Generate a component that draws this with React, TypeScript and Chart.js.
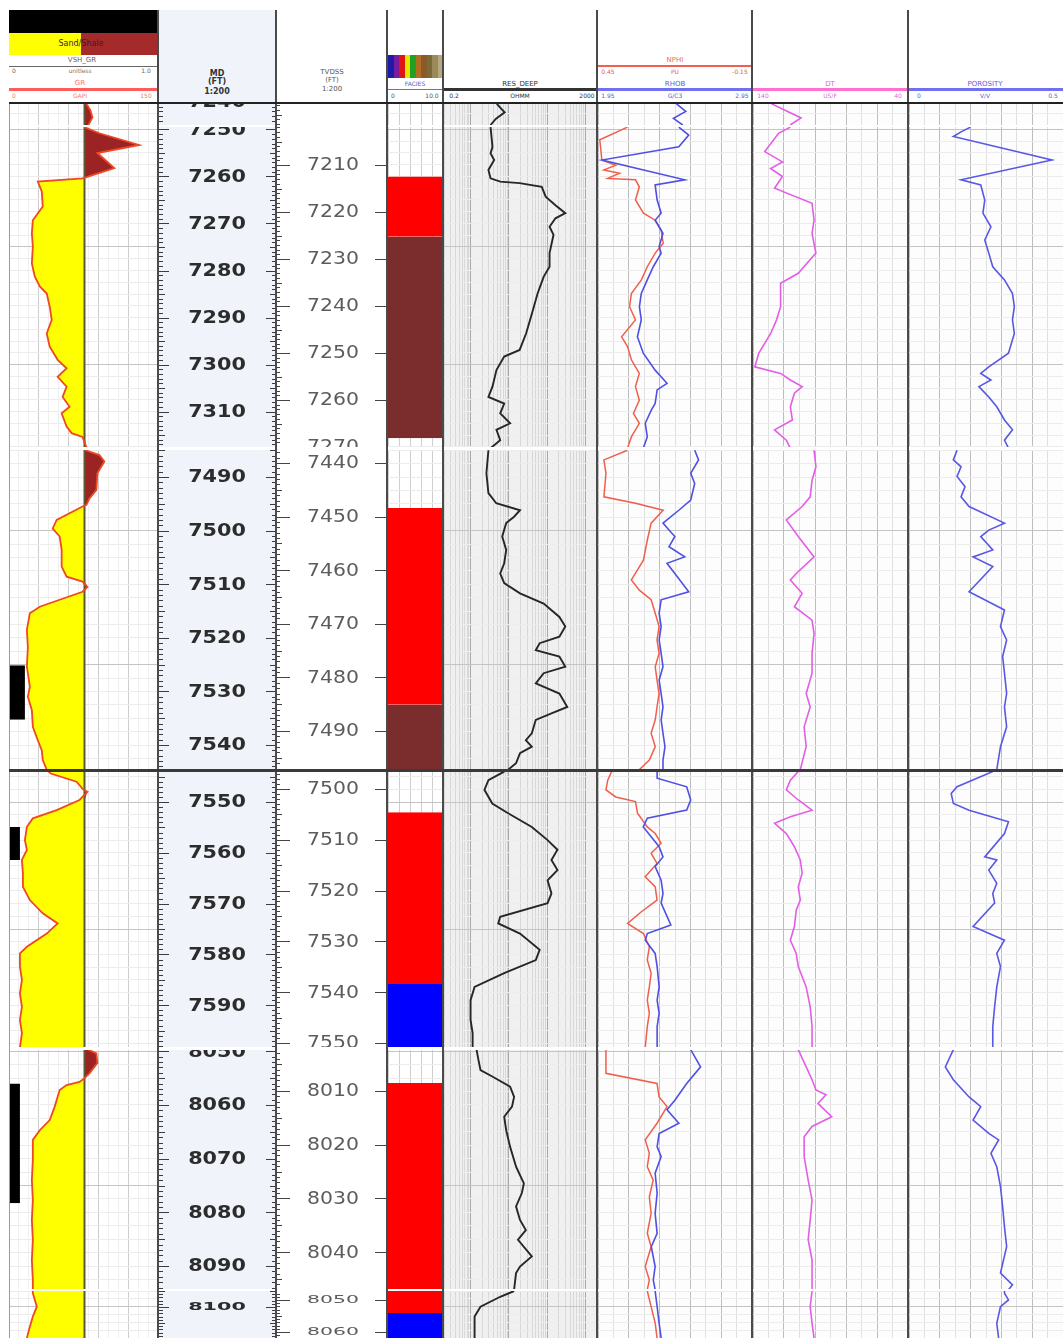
import React, { useEffect, useRef } from 'react';
import { Chart, registerables } from 'chart.js';

Chart.register(...registerables);

type P = [number, number];
type Interval = [number, number, string];

// ---------------- depth tick labels ----------------
const MD_LABELS_S0 = [7240];
const MD_LABELS_S1 = [7250, 7260, 7270, 7280, 7290, 7300, 7310];
const MD_LABELS_S2 = [7490, 7500, 7510, 7520, 7530, 7540];
const MD_LABELS_S3 = [7550, 7560, 7570, 7580, 7590];
const MD_LABELS_S4 = [8050, 8060, 8070, 8080, 8090];
const MD_LABELS_S5 = [8100];
const TVD_LABELS_S0: number[] = [];
const TVD_LABELS_S1 = [7210, 7220, 7230, 7240, 7250, 7260, 7270];
const TVD_LABELS_S2 = [7440, 7450, 7460, 7470, 7480, 7490];
const TVD_LABELS_S3 = [7500, 7510, 7520, 7530, 7540, 7550];
const TVD_LABELS_S4 = [8010, 8020, 8030, 8040];
const TVD_LABELS_S5 = [8050, 8060];

// ---------------- value-axis gridline ticks ----------------
const GR_TICKS = [0, 10, 20, 30, 40, 50, 60, 70, 80, 90, 100, 110, 120, 130, 140, 150];
const RES_TICKS = [0.2, 0.3, 0.4, 0.5, 0.6, 0.7, 0.8, 0.9, 1, 2, 3, 4, 5, 6, 7, 8, 9, 10, 20, 30, 40, 50, 60, 70, 80, 90,
  100, 200, 300, 400, 500, 600, 700, 800, 900, 1000, 2000];
const NPHI_TICKS = [0.45, 0.39, 0.33, 0.27, 0.21, 0.15, 0.09, 0.03, -0.03, -0.09, -0.15];
const DT_TICKS = [140, 130, 120, 110, 100, 90, 80, 70, 60, 50, 40];
const PHIE_TICKS = [0, 0.05, 0.1, 0.15, 0.2, 0.25, 0.3, 0.35, 0.4, 0.45, 0.5];
const FACIES_TICKS = [0, 2, 4, 6, 8, 10];
const GR_CUTOFF = 76;

// ---------------- curves: [MD, value] ----------------
const GR_S0: P[] = [[7240.4, 78], [7241.8, 82], [7243.3, 84], [7244.9, 80]];
const RES_S0: P[] = [[7240.4, 4.8], [7242.2, 7.7], [7243.6, 4.5], [7244.9, 3.3]];
const NPHI_S0: P[] = [];
const RHOB_S0: P[] = [[7240.4, 2.46], [7242.0, 2.52], [7243.5, 2.44], [7244.9, 2.5]];
const DT_S0: P[] = [[7240.4, 128], [7243.4, 109], [7244.9, 116]];
const PHIE_S0: P[] = [];

const GR_S1: P[] = [[7249.5, 76], [7250.8, 91], [7253.3, 131], [7255.0, 89], [7258.2, 106], [7259.9, 81], [7260.4, 74],
  [7261.1, 29], [7263.2, 33], [7266.4, 34], [7269.3, 24], [7272.1, 23], [7274.9, 24], [7278.5, 23], [7281.3, 26],
  [7283.4, 31], [7284.9, 38], [7287.7, 41], [7290.5, 43], [7293.4, 38], [7296.2, 41], [7299.0, 49], [7300.8, 58],
  [7302.6, 49], [7304.7, 58], [7306.9, 54], [7309.0, 61], [7310.4, 53], [7313.2, 58], [7314.6, 63], [7315.4, 74], [7317.6, 78]];
const RES_S1: P[] = [[7249.5, 3.3], [7253.7, 3.7], [7255.1, 3.3], [7256.5, 4.1], [7258.6, 2.9], [7260.4, 3.3], [7261.1, 5.9],
  [7261.4, 19], [7262.2, 72], [7264.3, 91], [7266.1, 164], [7267.8, 297], [7268.9, 164], [7270.7, 115], [7272.4, 146],
  [7276.3, 115], [7279.2, 115], [7281.3, 81], [7284.9, 56], [7289.1, 40], [7293.4, 28], [7296.9, 19], [7298.3, 7.5],
  [7301.2, 4.7], [7304.7, 3.7], [7306.9, 2.9], [7308.3, 7.5], [7310.4, 5.9], [7312.5, 10.7], [7313.9, 4.7], [7316.1, 5.9], [7317.8, 3.3]];
const NPHI_S1: P[] = [[7249.5, 0.335], [7252.2, 0.443], [7256.5, 0.435], [7257.6, 0.381], [7258.6, 0.427], [7259.3, 0.366],
  [7260.4, 0.412], [7260.7, 0.304], [7262.2, 0.289], [7265.0, 0.304], [7267.8, 0.273], [7269.3, 0.227], [7271.4, 0.204],
  [7274.2, 0.196], [7276.3, 0.227], [7279.2, 0.258], [7282.0, 0.281], [7284.9, 0.32], [7287.7, 0.327], [7290.5, 0.304],
  [7294.1, 0.358], [7296.2, 0.335], [7299.0, 0.32], [7301.9, 0.289], [7304.7, 0.304], [7307.6, 0.289], [7310.4, 0.312],
  [7312.5, 0.289], [7315.4, 0.32], [7317.8, 0.335]];
const RHOB_S1: P[] = [[7249.5, 2.475], [7251.2, 2.539], [7253.7, 2.475], [7256.5, 1.975], [7260.7, 2.513], [7261.8, 2.321],
  [7265.0, 2.334], [7267.8, 2.36], [7269.3, 2.321], [7272.1, 2.372], [7274.9, 2.347], [7276.3, 2.36], [7279.2, 2.309],
  [7282.0, 2.27], [7284.9, 2.231], [7287.7, 2.219], [7290.5, 2.231], [7294.1, 2.206], [7297.6, 2.244], [7301.2, 2.321],
  [7304.0, 2.398], [7305.4, 2.334], [7308.3, 2.321], [7309.7, 2.296], [7312.5, 2.257], [7315.4, 2.27], [7317.8, 2.244]];
const DT_S1: P[] = [[7249.5, 115.9], [7250.8, 123.5], [7254.7, 132.4], [7256.9, 121.0], [7258.3, 128.6], [7260.0, 121.0],
  [7262.5, 126.1], [7265.7, 101.9], [7269.3, 100.6], [7272.1, 101.9], [7276.3, 99.4], [7280.6, 110.8], [7282.7, 122.2],
  [7287.7, 122.2], [7290.5, 124.8], [7293.4, 128.6], [7297.6, 136.3], [7300.5, 138.8], [7301.9, 122.2], [7303.3, 115.9],
  [7304.7, 108.3], [7306.1, 113.3], [7309.0, 115.9], [7311.8, 114.6], [7313.9, 126.1], [7316.1, 118.5], [7317.8, 115.9]];
const PHIE_S1: P[] = [[7249.5, 0.2], [7250.5, 0.169], [7251.5, 0.144], [7256.5, 0.464], [7260.7, 0.169], [7261.8, 0.233],
  [7265.0, 0.246], [7267.8, 0.24], [7270.7, 0.266], [7273.5, 0.246], [7276.3, 0.259], [7279.2, 0.272], [7282.0, 0.31],
  [7284.9, 0.336], [7287.7, 0.342], [7290.5, 0.336], [7293.4, 0.342], [7297.6, 0.323], [7300.5, 0.259], [7301.9, 0.233],
  [7303.3, 0.266], [7304.7, 0.227], [7306.9, 0.259], [7309.0, 0.285], [7311.8, 0.31], [7313.9, 0.336], [7316.1, 0.31], [7317.8, 0.323]];

const GR_S2: P[] = [[7485.0, 77], [7485.9, 91], [7487.1, 96], [7489.3, 89], [7492.4, 88], [7494.0, 81], [7495.2, 78],
  [7495.5, 74], [7498.0, 48], [7499.6, 44], [7501.1, 51], [7503.6, 53], [7506.7, 53], [7508.6, 58], [7509.5, 74],
  [7510.5, 79], [7511.4, 74], [7512.9, 51], [7514.2, 31], [7515.4, 21], [7518.5, 18], [7521.7, 19], [7525.4, 18],
  [7529.1, 21], [7531.0, 19], [7533.5, 23], [7536.6, 24], [7539.1, 29], [7541.0, 33], [7542.8, 34], [7544.6, 38]];
const RES_S2: P[] = [[7485.0, 2.9], [7489.3, 2.57], [7493.0, 2.9], [7494.9, 4.65], [7496.2, 19.4], [7497.4, 13.6],
  [7498.6, 8.45], [7501.1, 6.65], [7503.6, 8.45], [7506.1, 7.5], [7508.0, 5.9], [7509.8, 7.5], [7511.7, 19.4],
  [7513.6, 80.6], [7516.1, 208], [7517.9, 297], [7519.8, 208], [7521.0, 63.4], [7522.3, 50.2], [7523.5, 208],
  [7525.4, 297], [7526.6, 80.6], [7528.5, 50.2], [7530.4, 208], [7532.9, 334], [7534.1, 129], [7535.3, 50.2],
  [7537.8, 39.5], [7539.1, 27.6], [7540.3, 39.5], [7541.5, 19.4], [7543.4, 15.3], [7544.6, 9.5]];
const NPHI_S2: P[] = [[7485.0, 0.335], [7486.8, 0.427], [7489.3, 0.419], [7493.7, 0.427], [7494.9, 0.304], [7496.2, 0.196],
  [7498.6, 0.243], [7501.8, 0.258], [7505.5, 0.273], [7509.2, 0.32], [7511.1, 0.289], [7512.9, 0.243], [7515.4, 0.227],
  [7517.9, 0.212], [7520.4, 0.22], [7522.9, 0.212], [7525.4, 0.227], [7527.9, 0.22], [7530.4, 0.212], [7532.9, 0.22],
  [7535.3, 0.227], [7537.8, 0.243], [7540.3, 0.227], [7542.8, 0.25], [7544.6, 0.289]];
const RHOB_S2: P[] = [[7485.0, 2.578], [7486.8, 2.603], [7489.3, 2.552], [7491.2, 2.578], [7494.3, 2.552], [7496.2, 2.475],
  [7498.6, 2.372], [7499.9, 2.411], [7501.1, 2.449], [7503.0, 2.411], [7504.9, 2.513], [7506.1, 2.398], [7508.0, 2.449],
  [7511.4, 2.539], [7512.9, 2.36], [7515.4, 2.347], [7517.9, 2.36], [7520.4, 2.347], [7522.9, 2.36], [7525.4, 2.372],
  [7527.9, 2.347], [7530.4, 2.36], [7532.9, 2.372], [7535.3, 2.36], [7537.8, 2.372], [7540.3, 2.385], [7542.8, 2.372], [7544.6, 2.372]];
const DT_S2: P[] = [[7485.0, 100.6], [7488.1, 99.4], [7490.6, 101.9], [7493.7, 103.1], [7495.5, 108.3], [7498.0, 118.5],
  [7501.1, 110.8], [7504.9, 100.6], [7508.0, 112.1], [7509.2, 115.9], [7511.7, 108.3], [7514.2, 113.3], [7516.7, 101.9],
  [7519.2, 100.6], [7522.9, 101.9], [7526.6, 101.9], [7530.4, 105.7], [7532.9, 103.1], [7536.6, 107], [7540.3, 105.7], [7544.6, 109.5]];
const PHIE_S2: P[] = [[7485.0, 0.156], [7486.8, 0.144], [7488.1, 0.169], [7489.9, 0.156], [7491.8, 0.182], [7493.7, 0.169],
  [7495.5, 0.195], [7498.6, 0.31], [7499.9, 0.259], [7501.1, 0.233], [7503.6, 0.272], [7504.9, 0.208], [7506.7, 0.272],
  [7511.4, 0.195], [7514.8, 0.31], [7517.9, 0.297], [7520.4, 0.317], [7523.5, 0.304], [7526.6, 0.31], [7530.4, 0.317],
  [7532.9, 0.31], [7536.6, 0.317], [7540.3, 0.297], [7544.6, 0.285]];

const GR_S3: P[] = [[7544.0, 40], [7544.4, 42], [7546.0, 68], [7547.6, 75], [7548.0, 79], [7549.6, 71], [7551.6, 48],
  [7553.2, 24], [7554.9, 18], [7557.5, 16], [7559.4, 18], [7561.4, 13], [7564.0, 14], [7566.7, 14], [7569.3, 21],
  [7571.9, 34], [7573.9, 49], [7575.9, 38], [7578.5, 18], [7579.8, 11], [7582.4, 11], [7585.0, 13], [7587.7, 11],
  [7590.3, 13], [7592.9, 11], [7595.5, 13], [7598.3, 11]];
const RES_S3: P[] = [[7544.0, 7.5], [7545.7, 2.9], [7547.6, 2.28], [7550.3, 3.66], [7552.2, 9.5], [7554.9, 39.5],
  [7557.5, 102], [7559.4, 185], [7561.4, 129], [7563.4, 185], [7565.4, 102], [7568.0, 129], [7569.9, 102], [7572.6, 5.9],
  [7573.9, 5.24], [7575.9, 19.4], [7579.1, 63.4], [7581.1, 50.2], [7583.7, 7.5], [7586.4, 1.26], [7589.0, 0.99],
  [7592.9, 0.99], [7595.5, 1.12], [7598.3, 1.12]];
const NPHI_S3: P[] = [[7544.0, 0.397], [7545.7, 0.412], [7547.6, 0.419], [7549.0, 0.381], [7549.9, 0.304], [7552.2, 0.296],
  [7554.9, 0.258], [7556.2, 0.227], [7558.1, 0.204], [7560.1, 0.243], [7562.1, 0.22], [7564.7, 0.266], [7566.7, 0.227],
  [7569.3, 0.22], [7571.6, 0.281], [7573.9, 0.335], [7575.9, 0.273], [7578.5, 0.25], [7581.1, 0.258], [7583.7, 0.243],
  [7586.4, 0.25], [7589.0, 0.258], [7591.6, 0.25], [7594.2, 0.258], [7598.3, 0.266]];
const RHOB_S3: P[] = [[7544.0, 2.334], [7545.3, 2.334], [7547.0, 2.526], [7549.6, 2.552], [7551.6, 2.526], [7553.2, 2.27],
  [7554.9, 2.244], [7558.8, 2.347], [7560.8, 2.372], [7562.7, 2.321], [7565.4, 2.36], [7568.0, 2.372], [7569.9, 2.36],
  [7574.2, 2.423], [7575.9, 2.27], [7577.2, 2.257], [7579.8, 2.321], [7582.4, 2.334], [7586.4, 2.347], [7589.0, 2.334],
  [7591.6, 2.347], [7594.2, 2.334], [7598.3, 2.334]];
const DT_S3: P[] = [[7544.0, 110.8], [7545.7, 115.9], [7547.6, 118.5], [7549.6, 110.8], [7551.6, 101.9], [7552.9, 115.9],
  [7554.2, 126.1], [7556.2, 118.5], [7558.8, 113.3], [7561.4, 109.5], [7564.0, 108.3], [7566.7, 110.8], [7569.3, 109.5],
  [7571.3, 112.1], [7574.5, 113.3], [7577.2, 115.9], [7579.8, 112.1], [7582.4, 110.8], [7586.4, 105.7], [7590.3, 103.1],
  [7594.2, 101.9], [7598.3, 101.9]];
const PHIE_S3: P[] = [[7544.0, 0.272], [7547.0, 0.156], [7548.3, 0.137], [7550.3, 0.144], [7551.6, 0.195], [7553.9, 0.323],
  [7556.2, 0.31], [7560.8, 0.246], [7561.4, 0.285], [7563.4, 0.259], [7566.0, 0.285], [7568.0, 0.272], [7569.9, 0.278],
  [7574.5, 0.208], [7577.2, 0.31], [7579.8, 0.285], [7582.4, 0.297], [7586.4, 0.285], [7590.3, 0.278], [7594.2, 0.272], [7598.3, 0.272]];

const GR_S4: P[] = [[8049.7, 80], [8050.4, 88], [8052.2, 89], [8054.1, 81], [8055.0, 76], [8055.7, 71], [8056.3, 58],
  [8057.2, 51], [8060.3, 46], [8062.8, 41], [8064.7, 31], [8066.5, 24], [8070.2, 24], [8074.0, 23], [8077.7, 24],
  [8081.4, 23], [8085.1, 24], [8088.9, 23], [8092.6, 24], [8094.4, 24]];
const RES_S4: P[] = [[8049.7, 1.42], [8051.6, 1.59], [8053.5, 1.8], [8054.7, 3.66], [8056.6, 10.7], [8058.5, 13.6],
  [8060.3, 12.0], [8062.2, 7.5], [8064.7, 8.45], [8067.8, 10.7], [8071.5, 15.3], [8074.6, 24.5], [8076.4, 21.7],
  [8078.9, 15.3], [8081.4, 19.4], [8083.3, 27.6], [8085.1, 17.2], [8088.2, 39.5], [8090.1, 19.4], [8091.3, 15.3], [8094.4, 13.6]];
const NPHI_S4: P[] = [[8049.7, 0.419], [8054.1, 0.419], [8056.0, 0.22], [8058.5, 0.212], [8060.3, 0.181], [8063.4, 0.22],
  [8066.5, 0.266], [8069.0, 0.25], [8071.5, 0.258], [8074.0, 0.235], [8077.1, 0.25], [8080.2, 0.243], [8083.9, 0.258],
  [8086.4, 0.243], [8090.1, 0.266], [8092.6, 0.25], [8094.4, 0.258]];
const RHOB_S4: P[] = [[8049.7, 2.552], [8052.9, 2.616], [8056.0, 2.526], [8059.1, 2.449], [8060.9, 2.398], [8063.4, 2.475],
  [8065.3, 2.347], [8067.8, 2.334], [8069.6, 2.36], [8072.7, 2.321], [8076.4, 2.334], [8080.2, 2.321], [8083.9, 2.334],
  [8086.4, 2.296], [8090.1, 2.321], [8092.6, 2.309], [8094.4, 2.321]];
const DT_S4: P[] = [[8049.7, 110.8], [8052.9, 105.7], [8055.3, 101.9], [8057.2, 99.4], [8058.1, 92.9], [8059.7, 98.1],
  [8062.2, 89.2], [8064.0, 101.9], [8065.9, 107], [8069.6, 107], [8074.0, 104.4], [8077.7, 101.9], [8081.4, 103.1],
  [8085.1, 104.4], [8088.9, 101.9], [8094.4, 101.9]];
const PHIE_S4: P[] = [[8049.7, 0.144], [8052.9, 0.118], [8055.3, 0.144], [8058.5, 0.195], [8060.3, 0.233], [8062.8, 0.208],
  [8065.3, 0.259], [8066.5, 0.291], [8069.0, 0.266], [8071.5, 0.285], [8075.2, 0.297], [8078.9, 0.304], [8082.7, 0.31],
  [8086.4, 0.317], [8091.3, 0.297], [8093.5, 0.336], [8094.4, 0.323]];

const GR_S5: P[] = [[8095.0, 24], [8095.7, 24], [8099.9, 28], [8103.0, 24], [8106.2, 21], [8109.7, 18]];
const RES_S5: P[] = [[8095.0, 13.6], [8096.8, 5.9], [8099.9, 1.8], [8103.0, 1.26], [8109.7, 1.26]];
const NPHI_S5: P[] = [[8095.0, 0.258], [8099.9, 0.243], [8105.1, 0.227], [8109.7, 0.22]];
const RHOB_S5: P[] = [[8095.0, 2.321], [8099.9, 2.334], [8105.1, 2.347], [8109.7, 2.36]];
const DT_S5: P[] = [[8095.0, 101.9], [8099.9, 103.1], [8105.1, 101.9], [8109.7, 100.6]];
const PHIE_S5: P[] = [[8095.0, 0.31], [8095.7, 0.31], [8097.8, 0.323], [8099.9, 0.297], [8105.1, 0.285], [8109.7, 0.291]];

// ---------------- facies intervals [top MD, base MD, class] ----------------
const FACIES_S0: Interval[] = [];
const FACIES_S1: Interval[] = [[7260.0, 7272.8, 'Sand'], [7272.8, 7315.7, 'Shale']];
const FACIES_S2: Interval[] = [[7495.8, 7532.5, 'Sand'], [7532.5, 7545.0, 'Shale']];
const FACIES_S3: Interval[] = [[7552.0, 7585.8, 'Sand'], [7585.8, 7599.0, 'Wet']];
const FACIES_S4: Interval[] = [[8055.9, 8095.0, 'Sand']];
const FACIES_S5: Interval[] = [[8095.0, 8101.9, 'Sand'], [8101.9, 8110.0, 'Wet']];

// perforated intervals [top MD, base MD] and their flag value on the GR axis
const PERFS: P[] = [[7525.1, 7535.3], [7554.9, 7561.4], [8056.0, 8078.3]];
const PERF_FLAG = [16, 11, 11];

// ---------------- styles / layout ----------------
const FACIES_COLORS: Record<string, string> = { Sand: '#ff0000', Shale: '#7b2c2c', Wet: '#0000ff' };
const COL = {
  gr: '#ee4824', shale: '#9c2323', sand: '#ffff00', cut: '#5a5a34', res: '#262626',
  nphi: '#ef5f4c', rhob: '#4f4fe4', dt: '#e35ee6', phie: '#5858e4',
};
const TX: Record<string, [number, number]> = {
  gr: [9, 149], md: [159, 117], tvd: [277, 110], fac: [388, 55], res: [444, 153], den: [598, 154], dt: [753, 155], phi: [909, 154],
};

const SECTIONS = [
  { top: 104, h: 21, md: [7240.43, 7244.9], tvd: [7192.7, 7197.2], sy: 1, mdL: MD_LABELS_S0, tvdL: TVD_LABELS_S0,
    gr: GR_S0, res: RES_S0, nphi: NPHI_S0, rhob: RHOB_S0, dt: DT_S0, phie: PHIE_S0, fac: FACIES_S0 },
  { top: 127, h: 320, md: [7249.47, 7317.55], tvd: [7201.91, 7270.0], sy: 1, mdL: MD_LABELS_S1, tvdL: TVD_LABELS_S1,
    gr: GR_S1, res: RES_S1, nphi: NPHI_S1, rhob: RHOB_S1, dt: DT_S1, phie: PHIE_S1, fac: FACIES_S1 },
  { top: 450, h: 319, md: [7484.96, 7544.47], tvd: [7437.57, 7497.08], sy: 1, mdL: MD_LABELS_S2, tvdL: TVD_LABELS_S2,
    gr: GR_S2, res: RES_S2, nphi: NPHI_S2, rhob: RHOB_S2, dt: DT_S2, phie: PHIE_S2, fac: FACIES_S2 },
  { top: 772, h: 275, md: [7544.09, 7598.22], tvd: [7496.65, 7550.79], sy: 1, mdL: MD_LABELS_S3, tvdL: TVD_LABELS_S3,
    gr: GR_S3, res: RES_S3, nphi: NPHI_S3, rhob: RHOB_S3, dt: DT_S3, phie: PHIE_S3, fac: FACIES_S3 },
  { top: 1050, h: 239, md: [8049.76, 8094.27], tvd: [8002.36, 8046.87], sy: 1, mdL: MD_LABELS_S4, tvdL: TVD_LABELS_S4,
    gr: GR_S4, res: RES_S4, nphi: NPHI_S4, rhob: RHOB_S4, dt: DT_S4, phie: PHIE_S4, fac: FACIES_S4 },
  { top: 1291, h: 47, md: [8095.0, 8109.69], tvd: [8047.19, 8061.88], sy: 0.6, mdL: MD_LABELS_S5, tvdL: TVD_LABELS_S5,
    gr: GR_S5, res: RES_S5, nphi: NPHI_S5, rhob: RHOB_S5, dt: DT_S5, phie: PHIE_S5, fac: FACIES_S5 },
];

// ---------------- plugins ----------------
const bgPlugin = {
  id: 'bg',
  beforeDraw(chart: any, _a: any, o: any) {
    if (!o || !o.color) return;
    const { ctx, chartArea: a } = chart;
    ctx.save();
    ctx.fillStyle = o.color;
    ctx.fillRect(a.left, a.top, a.right - a.left, a.bottom - a.top);
    ctx.restore();
  },
};

const rulerPlugin = {
  id: 'ruler',
  afterDraw(chart: any, _a: any, o: any) {
    if (!o || !o.labels) return;
    const { ctx } = chart;
    const y = chart.scales.y;
    const W = chart.width;
    ctx.save();
    ctx.strokeStyle = o.tickColor;
    ctx.lineWidth = 1;
    ctx.beginPath();
    for (let d = Math.ceil(y.min); d <= Math.floor(y.max); d++) {
      const p = Math.round(y.getPixelForValue(d)) + 0.5;
      const k = d % 10 === 0 ? 2 : d % 5 === 0 ? 1 : 0;
      const l = o.left[k];
      const r = o.right[k];
      if (l) { ctx.moveTo(0, p); ctx.lineTo(l, p); }
      if (r) { ctx.moveTo(W - r, p); ctx.lineTo(W, p); }
    }
    ctx.stroke();
    ctx.fillStyle = o.color;
    ctx.font = o.font;
    ctx.textAlign = 'center';
    ctx.textBaseline = 'middle';
    for (const d of o.labels) {
      const p = y.getPixelForValue(d);
      ctx.save();
      ctx.translate(o.cx, p);
      ctx.scale(o.sx, o.sy);
      ctx.fillText(String(d), 0, 1);
      ctx.restore();
    }
    ctx.restore();
  },
};

// ---------------- config helpers ----------------
const pts = (arr: P[]) => arr.map(([d, v]) => ({ x: v, y: d }));

function depthAxis(range: number[], minor = 2.5, major = 25) {
  const [min, max] = range;
  return {
    type: 'linear', reverse: true, min, max, position: 'left',
    afterBuildTicks: (s: any) => {
      const t: any[] = [];
      for (let v = Math.ceil(min / minor) * minor; v <= max + 1e-9; v += minor) t.push({ value: Math.round(v * 1000) / 1000 });
      s.ticks = t;
    },
    afterFit: (s: any) => { s.width = 0; },
    ticks: { display: false },
    grid: {
      drawTicks: false, lineWidth: 1,
      color: (c: any) => {
        const v = c.tick ? c.tick.value : 0;
        return Math.abs(v / major - Math.round(v / major)) < 1e-6 ? '#c4c4c4' : '#ececec';
      },
    },
    border: { display: false },
  };
}

function valueAxis(o: any) {
  return {
    type: o.type || 'linear', min: o.min, max: o.max, reverse: !!o.reverse, position: 'top',
    display: o.display === undefined ? true : o.display,
    afterBuildTicks: (s: any) => { s.ticks = o.ticks.map((v: number) => ({ value: v })); },
    afterFit: (s: any) => { s.height = 0; },
    ticks: { display: false },
    grid: {
      drawTicks: false, lineWidth: 1,
      color: (c: any) => (o.isMajor(c.tick ? c.tick.value : 0, c.index) ? o.major : o.minor),
    },
    border: { display: false },
  };
}

function baseOptions(scales: any, bg?: string, extra: any = {}) {
  return {
    responsive: false,
    maintainAspectRatio: false,
    animation: false,
    events: [],
    indexAxis: 'y',
    layout: { padding: 0 },
    scales,
    plugins: { legend: { display: false }, tooltip: { enabled: false }, title: { display: false }, bg: { color: bg }, ...extra },
  };
}

const curve = (data: P[], color: string, width: number, xAxisID = 'x') => ({
  data: pts(data), borderColor: color, borderWidth: width, pointRadius: 0, fill: false, xAxisID, tension: 0,
});

const block = (top: number, base: number, value: number, from: number, color: string, xAxisID = 'x') => ({
  data: [{ x: value, y: top }, { x: value, y: base }],
  borderWidth: 0, pointRadius: 0, backgroundColor: color, fill: { value: from }, xAxisID,
});

function grConfig(s: any) {
  const [a, b] = s.md;
  const sets: any[] = [curve(s.gr, COL.gr, 1.8)];
  PERFS.forEach(([t, bt], i) => {
    if (bt > a && t < b) sets.push(block(t, bt, PERF_FLAG[i], 0, '#000000'));
  });
  sets.push({ data: [{ x: GR_CUTOFF, y: a }, { x: GR_CUTOFF, y: b }], borderColor: COL.cut, borderWidth: 2, pointRadius: 0, fill: false });
  sets.push({ data: s.gr.map(([d, v]: P) => ({ x: Math.max(v, GR_CUTOFF), y: d })), borderWidth: 0, pointRadius: 0, backgroundColor: COL.shale, fill: { value: GR_CUTOFF } });
  sets.push({ data: s.gr.map(([d, v]: P) => ({ x: Math.min(v, GR_CUTOFF), y: d })), borderWidth: 0, pointRadius: 0, backgroundColor: COL.sand, fill: { value: GR_CUTOFF } });
  return {
    type: 'line',
    data: { datasets: sets },
    options: baseOptions({
      x: valueAxis({ min: 0, max: 150, ticks: GR_TICKS, isMajor: (v: number) => v % 30 === 0, major: '#cdcdcd', minor: '#efefef' }),
      y: depthAxis(s.md),
    }, '#ffffff'),
    plugins: [bgPlugin],
  };
}

function facConfig(s: any) {
  const sets = s.fac.map(([t, bt, cls]: Interval) => block(t, bt, 10, 0, FACIES_COLORS[cls]));
  return {
    type: 'line',
    data: { datasets: sets },
    options: baseOptions({
      x: valueAxis({ min: 0, max: 10, ticks: FACIES_TICKS, isMajor: () => false, major: '#c8c8c8', minor: '#cfcfcf' }),
      y: depthAxis(s.md),
    }, '#ffffff'),
    plugins: [bgPlugin],
  };
}

function resConfig(s: any) {
  return {
    type: 'line',
    data: { datasets: [curve(s.res, COL.res, 1.9)] },
    options: baseOptions({
      x: valueAxis({
        type: 'logarithmic', min: 0.2, max: 2000, ticks: RES_TICKS,
        isMajor: (v: number) => Math.abs(Math.log10(v) - Math.round(Math.log10(v))) < 1e-9,
        major: '#a9a9a9', minor: '#d7d7d7',
      }),
      y: depthAxis(s.md),
    }, '#f0f0f0'),
    plugins: [bgPlugin],
  };
}

function denConfig(s: any) {
  return {
    type: 'line',
    data: { datasets: [curve(s.rhob, COL.rhob, 1.6, 'x2'), curve(s.nphi, COL.nphi, 1.5, 'x')] },
    options: baseOptions({
      x: valueAxis({ min: -0.15, max: 0.45, reverse: true, ticks: NPHI_TICKS, isMajor: (_v: number, i: number) => i % 2 === 0, major: '#bdbdbd', minor: '#e0e0e0' }),
      x2: { type: 'linear', min: 1.95, max: 2.95, display: false, position: 'top' },
      y: depthAxis(s.md),
    }, '#fdfdfd'),
    plugins: [bgPlugin],
  };
}

function dtConfig(s: any) {
  return {
    type: 'line',
    data: { datasets: [curve(s.dt, COL.dt, 1.6)] },
    options: baseOptions({
      x: valueAxis({ min: 40, max: 140, reverse: true, ticks: DT_TICKS, isMajor: (_v: number, i: number) => i % 2 === 0, major: '#bdbdbd', minor: '#e0e0e0' }),
      y: depthAxis(s.md),
    }, '#fdfdfd'),
    plugins: [bgPlugin],
  };
}

function phiConfig(s: any) {
  return {
    type: 'line',
    data: { datasets: [curve(s.phie, COL.phie, 1.6)] },
    options: baseOptions({
      x: valueAxis({ min: 0, max: 0.5, ticks: PHIE_TICKS, isMajor: (_v: number, i: number) => i % 2 === 0, major: '#bdbdbd', minor: '#e0e0e0' }),
      y: depthAxis(s.md),
    }, '#fdfdfd'),
    plugins: [bgPlugin],
  };
}

function rulerConfig(range: number[], labels: number[], bg: string, ruler: any) {
  return {
    type: 'line',
    data: { datasets: [] },
    options: baseOptions({
      x: { type: 'linear', min: 0, max: 1, display: false },
      y: { type: 'linear', reverse: true, min: range[0], max: range[1], display: false },
    }, bg, { ruler: { ...ruler, labels } }),
    plugins: [bgPlugin, rulerPlugin],
  };
}

const mdConfig = (s: any) => rulerConfig(s.md, s.mdL, '#f0f4fa', {
  tickColor: '#3c3c3c', left: [4, 6, 10], right: [4, 6, 10], color: '#2c2c2c',
  font: 'bold 17px "DejaVu Sans", sans-serif', cx: 58, sx: 1.22, sy: s.sy,
});
const tvdConfig = (s: any) => rulerConfig(s.tvd, s.tvdL, '#ffffff', {
  tickColor: '#444444', left: [3, 5, 13], right: [0, 0, 12], color: '#5c5c5c',
  font: '17px "DejaVu Sans", sans-serif', cx: 56, sx: 1.2, sy: s.sy,
});

// ---------------- components ----------------
function TrackChart({ x, y, w, h, make }: { x: number; y: number; w: number; h: number; make: () => any }) {
  const ref = useRef<HTMLCanvasElement | null>(null);
  useEffect(() => {
    if (!ref.current) return;
    const chart = new Chart(ref.current, make());
    return () => chart.destroy();
  }, []);
  return <canvas ref={ref} width={w} height={h} style={{ position: 'absolute', left: x, top: y, width: w, height: h }} />;
}

const Box = ({ x, y, w, h, c }: any) => (
  <div style={{ position: 'absolute', left: x, top: y, width: w, height: h, background: c }} />
);
const Txt = ({ x, y, t, s = 7, c = '#555', b = false }: any) => (
  <div style={{
    position: 'absolute', left: x, top: y, transform: 'translate(-50%, -50%)', fontSize: s, lineHeight: 1,
    color: c, fontWeight: b ? 700 : 400, whiteSpace: 'nowrap', fontFamily: '"DejaVu Sans", sans-serif',
  }}>{t}</div>
);

const LEGEND_STRIPES = ['#1c1ca8', '#7a1c9c', '#e01414', '#e6e600', '#22a022', '#b07020', '#8a5a2a', '#7a6a3a', '#9a8a5a', '#b8a880'];

// header: [centre x, track colour, name, left value, unit, right value]
const CURVE_HEADERS: [number, string, string, string, string, string, number, number][] = [
  [520, '#333333', 'RES_DEEP', '0.2', 'OHMM', '2000', 444, 153],
  [675, '#5a5ae0', 'RHOB', '1.95', 'G/C3', '2.95', 598, 154],
  [830, '#e066e0', 'DT', '140', 'US/F', '40', 753, 155],
  [985, '#6060e0', 'POROSITY', '0', 'V/V', '0.5', 909, 154],
];

function Header() {
  return (
    <>
      <Box x={159} y={10} w={117} h={92} c="#f0f4fa" />
      <Box x={9} y={10} w={149} h={23} c="#000" />
      <Box x={9} y={33} w={72} h={22} c="#ffff00" />
      <Box x={81} y={33} w={77} h={22} c="#a52b2b" />
      <Txt x={81} y={44} t="Sand/Shale" s={8} c="#3a1838" />
      <Txt x={82} y={60} t="VSH_GR" s={7} c="#666" />
      <Box x={9} y={66} w={149} h={1} c="#666" />
      <Txt x={14} y={71} t="0" s={6} c="#666" />
      <Txt x={80} y={71} t="unitless" s={6} c="#777" />
      <Txt x={146} y={71} t="1.0" s={6} c="#666" />
      <Txt x={80} y={83} t="GR" s={7} c="#f07a7a" />
      <Box x={9} y={88} w={149} h={3} c="#ff5c5c" />
      <Txt x={14} y={96} t="0" s={6} c="#f07a7a" />
      <Txt x={80} y={96} t="GAPI" s={6} c="#f07a7a" />
      <Txt x={146} y={96} t="150" s={6} c="#f07a7a" />

      <Txt x={217} y={74} t="MD" s={8} c="#333" b />
      <Txt x={217} y={82} t="(FT)" s={8} c="#333" b />
      <Txt x={217} y={92} t="1:200" s={8} c="#333" b />

      <Txt x={332} y={72} t="TVDSS" s={7} c="#555" />
      <Txt x={332} y={80} t="(FT)" s={7} c="#555" />
      <Txt x={332} y={89} t="1:200" s={7} c="#555" />

      {LEGEND_STRIPES.map((c, i) => <Box key={i} x={388 + i * 5.5} y={55} w={5.5} h={23} c={c} />)}
      <Txt x={415} y={84} t="FACIES" s={6} c="#4466cc" />
      <Box x={388} y={89} w={55} h={1} c="#777" />
      <Txt x={393} y={96} t="0" s={6} c="#555" />
      <Txt x={432} y={96} t="10.0" s={6} c="#555" />

      <Txt x={675} y={60} t="NPHI" s={7} c="#f06a5a" />
      <Box x={598} y={65} w={154} h={2} c="#f06050" />
      <Txt x={608} y={72} t="0.45" s={6} c="#e0604a" />
      <Txt x={675} y={72} t="PU" s={6} c="#e0604a" />
      <Txt x={740} y={72} t="-0.15" s={6} c="#e0604a" />
      {CURVE_HEADERS.map(([cx, c, n, l, u, r, x0, w], i) => (
        <React.Fragment key={i}>
          <Txt x={cx} y={84} t={n} s={7} c={c} />
          <Box x={x0} y={88} w={w} h={3} c={i === 0 ? '#333' : i === 2 ? '#ff70d0' : '#7070f0'} />
          <Txt x={x0 + 10} y={96} t={l} s={6} c={c} />
          <Txt x={cx} y={96} t={u} s={6} c={c} />
          <Txt x={x0 + w - 10} y={96} t={r} s={6} c={c} />
        </React.Fragment>
      ))}
    </>
  );
}

const SEPARATORS = [157, 275, 386, 442, 596, 751, 907];

export default function App() {
  return (
    <div style={{ position: 'fixed', left: 0, top: 0, width: 1063, height: 1338, background: '#fff', overflow: 'hidden' }}>
      <Header />
      {SECTIONS.map((s, i) => (
        <React.Fragment key={i}>
          <TrackChart x={TX.gr[0]} y={s.top} w={TX.gr[1]} h={s.h} make={() => grConfig(s)} />
          <TrackChart x={TX.md[0]} y={s.top} w={TX.md[1]} h={s.h} make={() => mdConfig(s)} />
          <TrackChart x={TX.tvd[0]} y={s.top} w={TX.tvd[1]} h={s.h} make={() => tvdConfig(s)} />
          <TrackChart x={TX.fac[0]} y={s.top} w={TX.fac[1]} h={s.h} make={() => facConfig(s)} />
          <TrackChart x={TX.res[0]} y={s.top} w={TX.res[1]} h={s.h} make={() => resConfig(s)} />
          <TrackChart x={TX.den[0]} y={s.top} w={TX.den[1]} h={s.h} make={() => denConfig(s)} />
          <TrackChart x={TX.dt[0]} y={s.top} w={TX.dt[1]} h={s.h} make={() => dtConfig(s)} />
          <TrackChart x={TX.phi[0]} y={s.top} w={TX.phi[1]} h={s.h} make={() => phiConfig(s)} />
        </React.Fragment>
      ))}
      {SEPARATORS.map((x, i) => <Box key={i} x={x} y={10} w={2} h={1328} c="#4a4a4a" />)}
      <Box x={9} y={104} w={1} h={1234} c="#9a9a9a" />
      <Box x={9} y={102} w={1054} h={2} c="#222" />
      <Box x={9} y={769} w={1054} h={3} c="#3a3a3a" />
    </div>
  );
}
